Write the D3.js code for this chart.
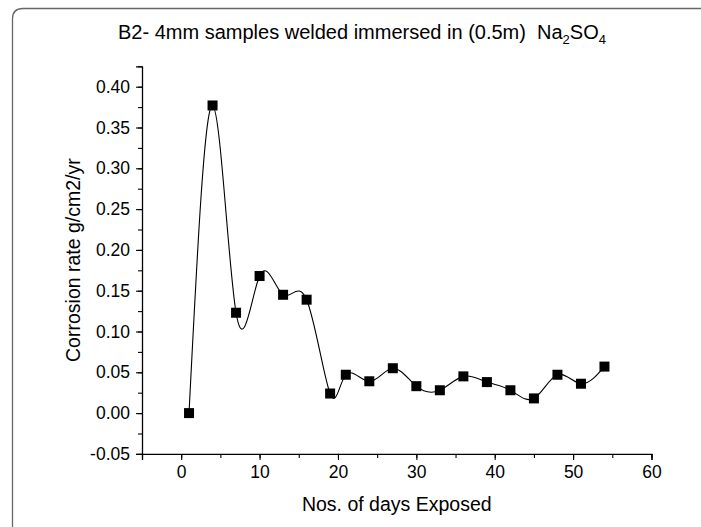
<!DOCTYPE html>
<html>
<head>
<meta charset="utf-8">
<script src="https://cdn.jsdelivr.net/npm/d3@7"></script>
<style>
  html, body { margin: 0; padding: 0; background: #fff; overflow: hidden; }
  svg { display: block; font-family: "Liberation Sans", Arial, sans-serif; }
</style>
</head>
<body>
<svg id="chart" width="701" height="527"></svg>
<script>
// ---- data ----
const days = [1, 4, 7, 10, 13, 16, 19, 21, 24, 27, 30, 33, 36, 39, 42, 45, 48, 51, 54];
const rates = [0.000, 0.377, 0.123, 0.168, 0.145, 0.139, 0.024, 0.047, 0.039, 0.055,
               0.033, 0.028, 0.045, 0.038, 0.028, 0.018, 0.047, 0.036, 0.057];
const xTicks = [0, 10, 20, 30, 40, 50, 60];
const yTicks = [-0.05, 0, 0.05, 0.10, 0.15, 0.20, 0.25, 0.30, 0.35, 0.40];
const titleMain = "B2- 4mm samples welded immersed in (0.5m)  ";
const xTitle = "Nos. of days Exposed";
const yTitle = "Corrosion rate g/cm2/yr";

const FONT = "Liberation Sans, Arial, sans-serif";
const svg = d3.select("#chart");
const locale = d3.formatLocale({decimal: ".", thousands: ",", grouping: [3], currency: ["", ""], minus: "-"});

// frame (left line + top line with rounded corner)
svg.append("path")
  .attr("d", "M12.5,527 L12.5,19 Q12.5,8.5 23,8.5 L701,8.5")
  .attr("fill", "none").attr("stroke", "#666").attr("stroke-width", 1.3);

const x = d3.scaleLinear().domain([-5, 60]).range([142, 651.5]);
const y = d3.scaleLinear().domain([-0.05, 0.425]).range([453.9, 66.3]);

// x axis
const gx = svg.append("g").attr("transform", `translate(0,${y(-0.05)})`);
gx.call(d3.axisBottom(x).tickValues(d3.range(-5, 60.01, 5)).tickSize(4).tickFormat(""))
  .call(g => g.select(".domain").remove());
const gx2 = svg.append("g").attr("transform", `translate(0,${y(-0.05)})`);
gx2.call(d3.axisBottom(x).tickValues(xTicks).tickSize(6).tickPadding(6).tickFormat(locale.format("d")));
gx2.selectAll(".tick text").attr("font-size", 17.5).attr("fill", "#000").attr("font-family", FONT);

// y axis
const gy = svg.append("g").attr("transform", `translate(${x(-5)},0)`);
gy.call(d3.axisLeft(y).tickValues(d3.range(-0.05, 0.426, 0.025)).tickSize(4).tickFormat(""))
  .call(g => g.select(".domain").remove());
const gy2 = svg.append("g").attr("transform", `translate(${x(-5)},0)`);
gy2.call(d3.axisLeft(y).tickValues(yTicks).tickSize(6).tickPadding(6).tickFormat(locale.format(".2f")));
gy2.selectAll(".tick text").attr("font-size", 17.5).attr("fill", "#000").attr("font-family", FONT);

svg.selectAll(".domain").attr("stroke", "#000").attr("stroke-width", 1.3);
svg.selectAll(".tick line").attr("stroke", "#000").attr("stroke-width", 1.1);

// spline line
const pts = days.map((d, i) => [d, rates[i]]);
svg.append("path")
  .datum(pts)
  .attr("fill", "none")
  .attr("stroke", "#000")
  .attr("stroke-width", 1.1)
  .attr("d", d3.line().x(d => x(d[0])).y(d => y(d[1])).curve(d3.curveNatural));

// markers
svg.selectAll("rect.mk").data(pts).join("rect")
  .attr("class", "mk")
  .attr("x", d => x(d[0]) - 5).attr("y", d => y(d[1]) - 5)
  .attr("width", 10).attr("height", 10)
  .attr("fill", "#000");

// title
const t = svg.append("text")
  .attr("x", 362).attr("y", 39)
  .attr("text-anchor", "middle")
  .attr("font-size", 20).attr("fill", "#000")
  .attr("font-family", FONT)
  .style("white-space", "pre");
t.append("tspan").text(titleMain + "Na");
t.append("tspan").attr("font-size", 13).attr("dy", 5).text("2");
t.append("tspan").attr("dy", -5).text("SO");
t.append("tspan").attr("font-size", 13).attr("dy", 5).text("4");

// axis titles
svg.append("text")
  .attr("x", (x(-5) + x(60)) / 2).attr("y", 511)
  .attr("text-anchor", "middle").attr("font-size", 19.5).attr("fill", "#000")
  .attr("font-family", FONT)
  .text(xTitle);

svg.append("text")
  .attr("transform", `translate(80,${(y(-0.05) + y(0.425)) / 2}) rotate(-90)`)
  .attr("text-anchor", "middle").attr("font-size", 19.5).attr("fill", "#000")
  .attr("font-family", FONT)
  .text(yTitle);
</script>
</body>
</html>
